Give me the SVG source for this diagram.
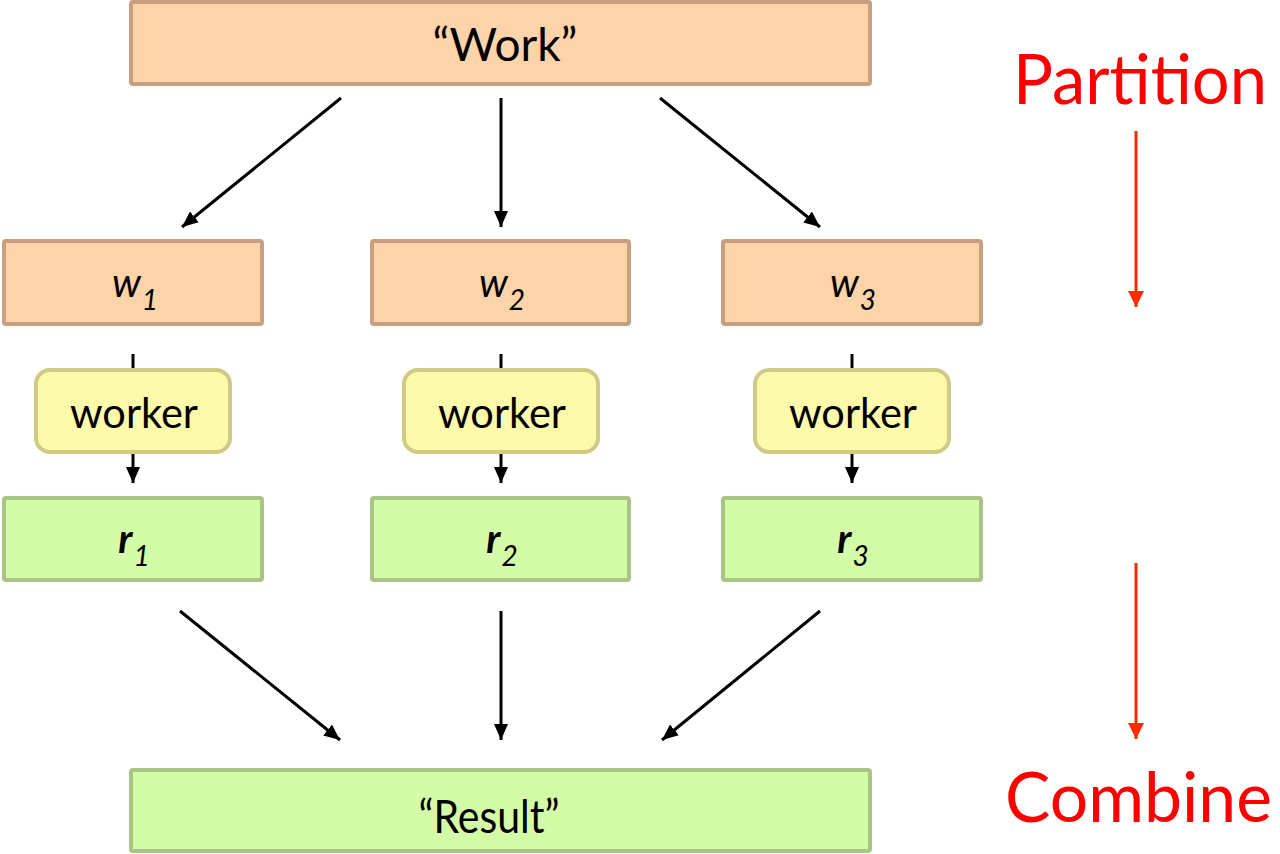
<svg xmlns="http://www.w3.org/2000/svg" width="1280" height="854" viewBox="0 0 1280 854">
<defs>
<style>
.t{font-family:Lato,"Open Sans","Liberation Sans",sans-serif;fill:#000;text-anchor:middle}
.o{fill:#fdd4a9;stroke:#c9a07f;stroke-width:4}
.g{fill:#d4fba8;stroke:#a9c585;stroke-width:4}
.y{fill:#fefaab;stroke:#cfca86;stroke-width:4}
.big{font-size:46px}
.lab{font-size:40px;font-style:italic}
.sub{font-size:28px;font-style:italic}
.wk{font-size:42px}
.red{font-family:Lato,"Open Sans","Liberation Sans",sans-serif;font-size:70px;fill:#ff0000}
.c{stroke:#000;stroke-width:3;fill:none}
.rc{stroke:#ff2a00;stroke-width:3;fill:none}
</style>
<marker id="ah" viewBox="0 0 16 14" refX="16" refY="7" markerWidth="16" markerHeight="14" markerUnits="userSpaceOnUse" orient="auto">
<path d="M0,0 L16,7 L0,14 z" fill="#000"/>
</marker>
<marker id="rh" viewBox="0 0 16 16" refX="16" refY="8" markerWidth="16" markerHeight="16" markerUnits="userSpaceOnUse" orient="auto">
<path d="M0,0 L16,8 L0,16 z" fill="#ff2a00"/>
</marker>
</defs>

<g id="connectors">
<line class="c" x1="341" y1="98" x2="182" y2="227" marker-end="url(#ah)"/>
<line class="c" x1="501" y1="98" x2="501" y2="227" marker-end="url(#ah)"/>
<line class="c" x1="660" y1="98" x2="820" y2="227" marker-end="url(#ah)"/>
<line class="c" x1="133" y1="354" x2="133" y2="372"/>
<line class="c" x1="501" y1="354" x2="501" y2="372"/>
<line class="c" x1="852" y1="354" x2="852" y2="372"/>
<line class="c" x1="133" y1="452" x2="133" y2="483" marker-end="url(#ah)"/>
<line class="c" x1="501" y1="452" x2="501" y2="483" marker-end="url(#ah)"/>
<line class="c" x1="852" y1="452" x2="852" y2="483" marker-end="url(#ah)"/>
<line class="c" x1="180" y1="611" x2="340" y2="740" marker-end="url(#ah)"/>
<line class="c" x1="501" y1="611" x2="501" y2="740" marker-end="url(#ah)"/>
<line class="c" x1="820" y1="611" x2="662" y2="740" marker-end="url(#ah)"/>
<line class="rc" x1="1136" y1="131" x2="1136" y2="307" marker-end="url(#rh)"/>
<line class="rc" x1="1136" y1="563" x2="1136" y2="739" marker-end="url(#rh)"/>
</g>

<g id="work">
<rect class="o" x="131" y="2" width="739" height="82" rx="2"/>
<text class="t big" x="505" y="61">“Work”</text>
</g>

<g id="w1">
<rect class="o" x="4" y="241" width="258" height="83" rx="2"/>
<text class="t" x="135" y="297"><tspan class="lab">w</tspan><tspan class="sub" dx="1" dy="13">1</tspan></text>
</g>
<g id="w2">
<rect class="o" x="372" y="241" width="257" height="83" rx="2"/>
<text class="t" x="502" y="297"><tspan class="lab">w</tspan><tspan class="sub" dx="1" dy="13">2</tspan></text>
</g>
<g id="w3">
<rect class="o" x="723" y="241" width="258" height="83" rx="2"/>
<text class="t" x="853" y="297"><tspan class="lab">w</tspan><tspan class="sub" dx="1" dy="13">3</tspan></text>
</g>

<g id="worker1">
<rect class="y" x="36" y="370" width="194" height="82" rx="14"/>
<text class="t wk" x="134" y="428" textLength="128" lengthAdjust="spacingAndGlyphs">worker</text>
</g>
<g id="worker2">
<rect class="y" x="404" y="370" width="194" height="82" rx="14"/>
<text class="t wk" x="502" y="428" textLength="128" lengthAdjust="spacingAndGlyphs">worker</text>
</g>
<g id="worker3">
<rect class="y" x="755" y="370" width="194" height="82" rx="14"/>
<text class="t wk" x="853" y="428" textLength="128" lengthAdjust="spacingAndGlyphs">worker</text>
</g>

<g id="r1">
<rect class="g" x="4" y="498" width="258" height="82" rx="2"/>
<text class="t" x="134" y="553"><tspan class="lab" font-weight="bold">r</tspan><tspan class="sub" dx="1" dy="13">1</tspan></text>
</g>
<g id="r2">
<rect class="g" x="372" y="498" width="257" height="82" rx="2"/>
<text class="t" x="502" y="553"><tspan class="lab" font-weight="bold">r</tspan><tspan class="sub" dx="1" dy="13">2</tspan></text>
</g>
<g id="r3">
<rect class="g" x="723" y="498" width="258" height="82" rx="2"/>
<text class="t" x="853" y="553"><tspan class="lab" font-weight="bold">r</tspan><tspan class="sub" dx="1" dy="13">3</tspan></text>
</g>

<g id="result">
<rect class="g" x="131" y="770" width="739" height="81" rx="2"/>
<text class="t big" x="489" y="833" textLength="141" lengthAdjust="spacingAndGlyphs">“Result”</text>
</g>

<g id="labels">
<text class="red" x="1013" y="104" textLength="254" lengthAdjust="spacingAndGlyphs">Partition</text>
<text class="red" x="1005" y="822" textLength="267" lengthAdjust="spacingAndGlyphs">Combine</text>
</g>
</svg>
